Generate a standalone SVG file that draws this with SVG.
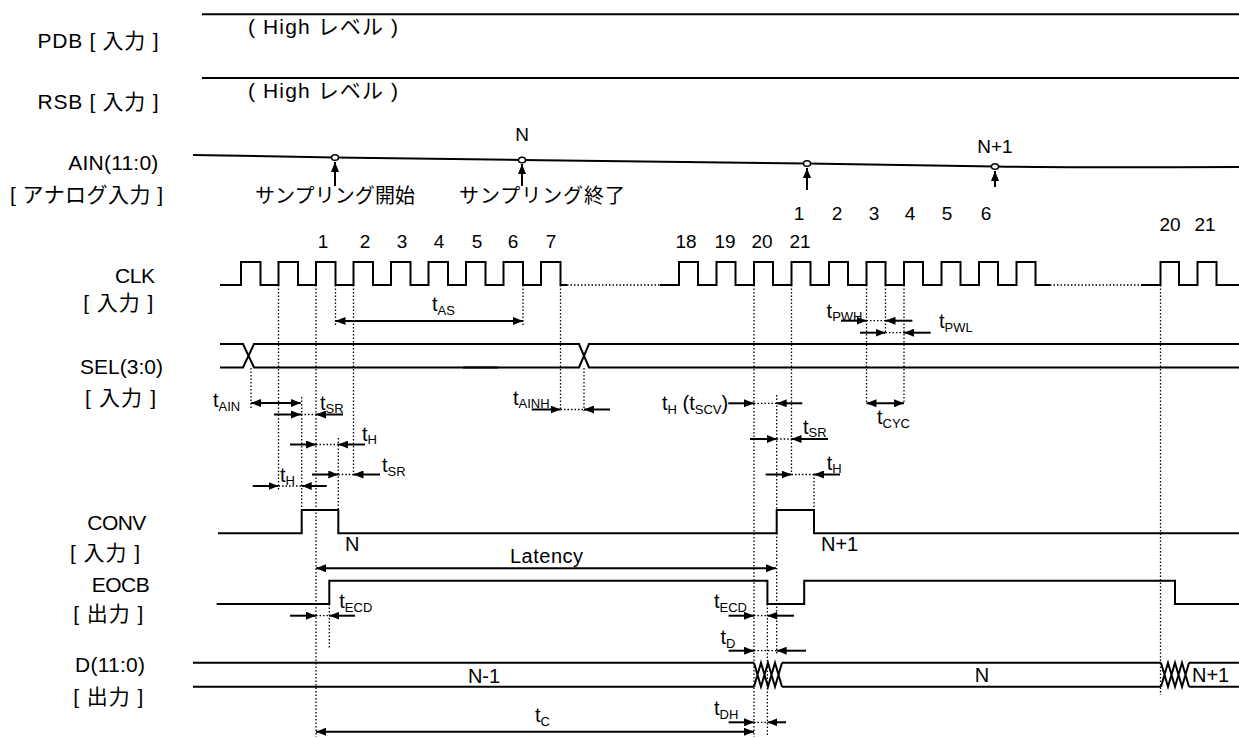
<svg xmlns="http://www.w3.org/2000/svg" width="1239" height="738" viewBox="0 0 1239 738">
<defs>
<marker id="ah" viewBox="0 0 10 8" refX="10" refY="4" markerWidth="10" markerHeight="8" markerUnits="userSpaceOnUse" orient="auto-start-reverse"><path d="M0,0 L10,4 L0,8 z" fill="#000"/></marker>
</defs>
<style>
text{font-family:"Liberation Sans",Arial,"Noto Sans CJK JP",sans-serif;fill:#000}
.lb{font-size:21px}
.hi{font-size:21px}
.jp{font-size:20px}
.num{font-size:19px;text-anchor:middle}
.t{font-size:20px}
.s{font-size:13px}
.sig{fill:none;stroke:#000;stroke-width:2}
.dot{fill:none;stroke:#000;stroke-width:1.3;stroke-dasharray:1.5 2}
.ar{fill:none;stroke:#000;stroke-width:2;marker-end:url(#ah)}
.dar{fill:none;stroke:#000;stroke-width:2;marker-start:url(#ah);marker-end:url(#ah)}
.pt{fill:#fff;stroke:#000;stroke-width:1.5}
</style>
<rect width="1239" height="738" fill="#fff"/>

<g id="PDB">
<text class="lb" x="37.5" y="48" textLength="121" lengthAdjust="spacing">PDB [ 入力 ]</text>
<path class="sig" d="M202,14.3 H1239"/>
<text class="hi" x="248" y="34" textLength="150" lengthAdjust="spacing">( High レベル )</text>
</g>

<g id="RSB">
<text class="lb" x="37.5" y="109" textLength="121" lengthAdjust="spacing">RSB [ 入力 ]</text>
<path class="sig" d="M202,78 H1239"/>
<text class="hi" x="248" y="98" textLength="150" lengthAdjust="spacing">( High レベル )</text>
</g>

<g id="AIN">
<text class="lb" x="68.3" y="170" textLength="90" lengthAdjust="spacing">AIN(11:0)</text>
<text class="lb" x="10" y="202" textLength="153" lengthAdjust="spacing">[ アナログ入力 ]</text>
<path class="sig" d="M193,155 L335,157.5 L522,160 L807,163.5 L995,166.5 C1080,168 1160,167 1239,167"/>
<ellipse class="pt" cx="335" cy="157.5" rx="3.5" ry="2.8"/>
<ellipse class="pt" cx="522" cy="160" rx="3.5" ry="2.8"/>
<ellipse class="pt" cx="807" cy="163.5" rx="3.5" ry="2.8"/>
<ellipse class="pt" cx="995" cy="166.5" rx="3.5" ry="2.8"/>
<text class="num" x="522" y="141">N</text>
<text class="num" x="995" y="153">N+1</text>
<text class="jp" x="255" y="203" textLength="160" lengthAdjust="spacing">サンプリング開始</text>
<text class="jp" x="459" y="203" textLength="166" lengthAdjust="spacing">サンプリング終了</text>
<text class="num" x="799" y="220">1</text>
<text class="num" x="837" y="220">2</text>
<text class="num" x="874" y="220">3</text>
<text class="num" x="910" y="220">4</text>
<text class="num" x="947" y="220">5</text>
<text class="num" x="986" y="220">6</text>
</g>

<g id="CLK">
<text class="lb" x="115" y="282.5" textLength="40" lengthAdjust="spacing">CLK</text>
<text class="lb" x="83.3" y="310" textLength="70" lengthAdjust="spacing">[ 入力 ]</text>
<path class="sig" d="M220,285 H241 V262 H260.5 V285 H278.5 V262 H298 V285 H316 V262 H335.5 V285 H353.5 V262 H373 V285 H391 V262 H410.5 V285 H428.5 V262 H448 V285 H466 V262 H485.5 V285 H503.5 V262 H523 V285 H541 V262 H560.5 V285 H567"/>
<path class="dot" d="M567,285 H660"/>
<path class="sig" d="M660,285 H679 V262 H698 V285 H716.5 V262 H735.5 V285 H754 V262 H773 V285 H791.5 V262 H810.5 V285 H829 V262 H848 V285 H866.5 V262 H885.5 V285 H904 V262 H923 V285 H941.5 V262 H960.5 V285 H979 V262 H998 V285 H1016.5 V262 H1035.5 V285 H1050"/>
<path class="dot" d="M1050,285 H1141"/>
<path class="sig" d="M1141,285 H1160.5 V262 H1179 V285 H1197.5 V262 H1216.5 V285 H1239"/>
<text class="num" x="323" y="248">1</text>
<text class="num" x="365" y="248">2</text>
<text class="num" x="402" y="248">3</text>
<text class="num" x="439" y="248">4</text>
<text class="num" x="477" y="248">5</text>
<text class="num" x="513" y="248">6</text>
<text class="num" x="551" y="248">7</text>
<text class="num" x="686" y="248">18</text>
<text class="num" x="725" y="248">19</text>
<text class="num" x="762" y="248">20</text>
<text class="num" x="800" y="248">21</text>
<text class="num" x="1170" y="231">20</text>
<text class="num" x="1205" y="231">21</text>
</g>

<g id="SEL">
<text class="lb" x="80" y="374" textLength="83" lengthAdjust="spacing">SEL(3:0)</text>
<text class="lb" x="85" y="405" textLength="71" lengthAdjust="spacing">[ 入力 ]</text>
<path class="sig" d="M220,344 H243 L254,367.5 H579 L589,344 H1239"/>
<path class="sig" d="M220,367.5 H243 L254,344 H579 L589,367.5 H1239"/>
<path class="sig" stroke-width="3" d="M463,344 H498 M463,367.5 H498"/>
</g>

<g id="CONV">
<text class="lb" x="87.3" y="530" textLength="59" lengthAdjust="spacing">CONV</text>
<text class="lb" x="70" y="560" textLength="70" lengthAdjust="spacing">[ 入力 ]</text>
<path class="sig" d="M218,533.3 H301.7 V510 H338.3 V533.3 H776.7 V510 H814 V533.3 H1239"/>
<text class="t" x="345" y="551">N</text>
<text class="t" x="821" y="551">N+1</text>
</g>

<g id="EOCB">
<text class="lb" x="91.7" y="592" textLength="58" lengthAdjust="spacing">EOCB</text>
<text class="lb" x="73.3" y="621" textLength="70" lengthAdjust="spacing">[ 出力 ]</text>
<path class="sig" d="M216.7,604 H329.3 V580.7 H767.4 V604 H804.2 V580.7 H1175 V604 H1239"/>
</g>

<g id="D">
<text class="lb" x="75" y="672" textLength="70" lengthAdjust="spacing">D(11:0)</text>
<text class="lb" x="73.3" y="704" textLength="70" lengthAdjust="spacing">[ 出力 ]</text>
<path class="sig" d="M193,662.7 H754 M782,662.7 H1161 M1189,662.7 H1239 M193,686.7 H754 M782,686.7 H1161 M1189,686.7 H1239"/>
<path class="sig" stroke-width="1.6" d="M754,662.7 L761,686.7 L768,662.7 L775,686.7 L782,662.7 M754,686.7 L761,662.7 L768,686.7 L775,662.7 L782,686.7"/>
<path class="sig" stroke-width="1.6" d="M1161,662.7 L1168,686.7 L1175,662.7 L1182,686.7 L1189,662.7 M1161,686.7 L1168,662.7 L1175,686.7 L1182,662.7 L1189,686.7"/>
<text class="t" x="484" y="683" text-anchor="middle">N-1</text>
<text class="t" x="982" y="682" text-anchor="middle">N</text>
<text class="t" x="1192" y="682">N+1</text>
</g>

<g id="connectors">
<path class="dot" d="M251,368 V408 M278.5,285 V490 M301.7,397 V510 M316,285 V737 M335.5,285 V327 M338.3,438 V510 M353.5,285 V477 M523,285 V327 M560.5,285 V410 M584,368 V411 M754,285 V737 M776.7,395 V510 M776.7,533 V655 M791.5,285 V474 M814,474 V510 M866.5,285 V403 M885.5,285 V333 M904,285 V403 M1160.5,285 V695 M329.3,604 V648 M767.4,604 V737"/>
<path class="ar" d="M335,186 V162"/>
<path class="ar" d="M522,186 V164"/>
<path class="ar" d="M807,190 V168"/>
<path class="ar" d="M995,187 V171"/>
<path class="dar" d="M335.5,321 H523"/>
<text class="t" x="432" y="311">t<tspan class="s" dy="4">AS</tspan></text>
<path class="dar" d="M251,403 H300.7"/>
<text class="t" x="213" y="407">t<tspan class="s" dy="4">AIN</tspan></text>
<path class="ar" d="M274,414.5 H301"/>
<path class="dot" d="M301,414.5 H316"/>
<path class="ar" d="M343,414.5 H316"/>
<text class="t" x="320" y="410">t<tspan class="s" dy="3">SR</tspan></text>
<path class="ar" d="M290,444.5 H316"/>
<path class="dot" d="M316,444.5 H338.3"/>
<path class="ar" d="M365,444.5 H338.3"/>
<text class="t" x="362" y="441">t<tspan class="s" dy="3">H</tspan></text>
<path class="ar" d="M312,474.5 H338.3"/>
<path class="dot" d="M338.3,474.5 H353.5"/>
<path class="ar" d="M380,474.5 H353.5"/>
<text class="t" x="382" y="472">t<tspan class="s" dy="4">SR</tspan></text>
<path class="ar" d="M252.7,486 H278.5"/>
<path class="dot" d="M278.5,486 H301.7"/>
<path class="ar" d="M326.7,486 H301.7"/>
<text class="t" x="280" y="482">t<tspan class="s" dy="3">H</tspan></text>
<path class="ar" d="M531.7,409.5 H560.5"/>
<path class="dot" d="M560.5,409.5 H584"/>
<path class="ar" d="M610,409.5 H584"/>
<text class="t" x="513" y="405">t<tspan class="s" dy="3">AINH</tspan></text>
<path class="ar" d="M728.3,403.3 H754"/>
<path class="dot" d="M754,403.3 H776.7"/>
<path class="ar" d="M802.3,403.3 H776.7"/>
<text class="t" x="662" y="410">t<tspan class="s" dy="4">H</tspan><tspan dy="-4"> (t</tspan><tspan class="s" dy="4">SCV</tspan><tspan dy="-4">)</tspan></text>
<path class="dar" d="M866.5,403.3 H904"/>
<text class="t" x="877" y="424">t<tspan class="s" dy="4">CYC</tspan></text>
<path class="ar" d="M841,320.7 H866.5"/>
<path class="dot" d="M866.5,320.7 H885.5"/>
<path class="ar" d="M912.4,320.7 H885.5"/>
<text class="t" x="826.6" y="318">t<tspan class="s" dy="3">PWH</tspan></text>
<path class="ar" d="M860,332.7 H885.5"/>
<path class="dot" d="M885.5,332.7 H904"/>
<path class="ar" d="M930.7,332.7 H904"/>
<text class="t" x="939" y="328">t<tspan class="s" dy="4">PWL</tspan></text>
<path class="ar" d="M750,439 H776.7"/>
<path class="dot" d="M776.7,439 H791.5"/>
<path class="ar" d="M828,439 H791.5"/>
<text class="t" x="803" y="434">t<tspan class="s" dy="3">SR</tspan></text>
<path class="ar" d="M765.7,474.5 H791.5"/>
<path class="dot" d="M791.5,474.5 H814"/>
<path class="ar" d="M840,474.5 H814"/>
<text class="t" x="826.7" y="470">t<tspan class="s" dy="3">H</tspan></text>
<path class="dar" d="M316,568.3 H776"/>
<text class="t" x="510" y="563" textLength="73" lengthAdjust="spacing">Latency</text>
<path class="ar" d="M290,615.7 H316"/>
<path class="dot" d="M316,615.7 H329.3"/>
<path class="ar" d="M355,615.7 H329.3"/>
<text class="t" x="339.3" y="608">t<tspan class="s" dy="4">ECD</tspan></text>
<path class="ar" d="M728.6,615.7 H754"/>
<path class="dot" d="M754,615.7 H767.4"/>
<path class="ar" d="M794,615.7 H767.4"/>
<text class="t" x="714" y="608">t<tspan class="s" dy="4">ECD</tspan></text>
<path class="ar" d="M728.6,650.7 H754"/>
<path class="dot" d="M754,650.7 H776.7"/>
<path class="ar" d="M806,650.7 H776.7"/>
<text class="t" x="720.5" y="644">t<tspan class="s" dy="4">D</tspan></text>
<path class="dar" d="M316,731.7 H754"/>
<text class="t" x="535" y="722">t<tspan class="s" dy="4">C</tspan></text>
<path class="ar" d="M728.6,722.3 H754"/>
<path class="dot" d="M754,722.3 H767.4"/>
<path class="ar" d="M786,722.3 H767.4"/>
<text class="t" x="714" y="715">t<tspan class="s" dy="4">DH</tspan></text>
</g>
</svg>
